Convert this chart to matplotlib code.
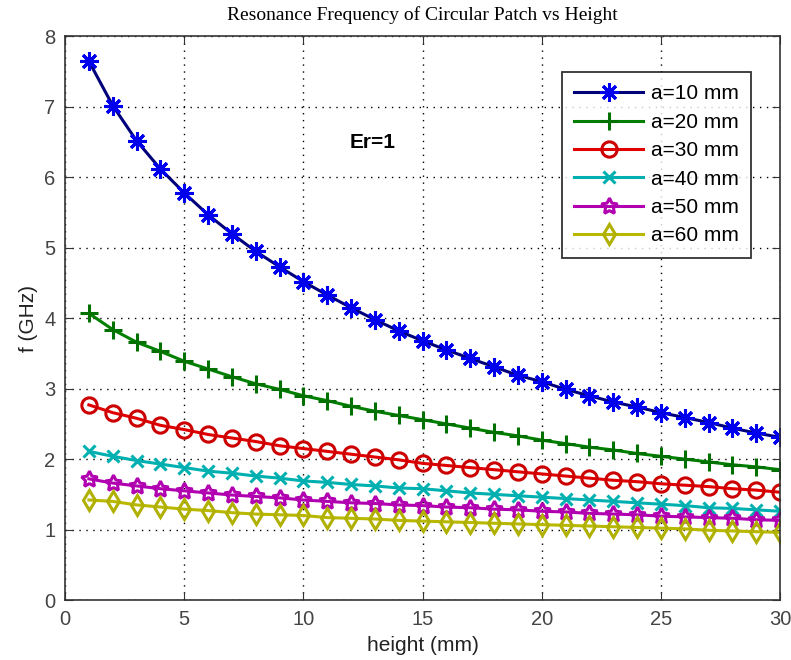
import numpy as np
import matplotlib
matplotlib.use("Agg")
import matplotlib.pyplot as plt

# values
height = list(range(1, 31))
f_a10 = [7.65, 7.02, 6.52, 6.12, 5.78, 5.47, 5.20, 4.95, 4.73, 4.52,
         4.33, 4.15, 3.98, 3.82, 3.68, 3.55, 3.43, 3.31, 3.19, 3.10,
         2.99, 2.90, 2.81, 2.74, 2.66, 2.59, 2.52, 2.44, 2.37, 2.31]
f_a20 = [4.07, 3.84, 3.66, 3.53, 3.39, 3.28, 3.17, 3.07, 2.99, 2.90,
         2.83, 2.75, 2.68, 2.62, 2.56, 2.50, 2.44, 2.38, 2.33, 2.27,
         2.22, 2.17, 2.13, 2.08, 2.04, 2.00, 1.96, 1.92, 1.89, 1.85]
f_a30 = [2.77, 2.66, 2.58, 2.48, 2.42, 2.35, 2.30, 2.25, 2.19, 2.15,
         2.11, 2.07, 2.03, 1.99, 1.94, 1.91, 1.88, 1.85, 1.82, 1.79,
         1.76, 1.73, 1.70, 1.68, 1.65, 1.63, 1.61, 1.58, 1.56, 1.53]
f_a40 = [2.11, 2.04, 1.98, 1.93, 1.88, 1.83, 1.80, 1.76, 1.73, 1.69,
         1.67, 1.64, 1.62, 1.59, 1.58, 1.55, 1.52, 1.50, 1.48, 1.46,
         1.44, 1.42, 1.40, 1.38, 1.36, 1.34, 1.31, 1.30, 1.28, 1.26]
f_a50 = [1.72, 1.66, 1.62, 1.58, 1.55, 1.52, 1.49, 1.47, 1.45, 1.42,
         1.40, 1.38, 1.37, 1.35, 1.34, 1.32, 1.31, 1.29, 1.28, 1.26,
         1.25, 1.23, 1.22, 1.21, 1.19, 1.18, 1.17, 1.16, 1.14, 1.13]
f_a60 = [1.42, 1.40, 1.35, 1.32, 1.29, 1.27, 1.24, 1.22, 1.21, 1.20,
         1.17, 1.16, 1.15, 1.13, 1.12, 1.11, 1.10, 1.09, 1.08, 1.07,
         1.06, 1.05, 1.04, 1.03, 1.02, 1.01, 0.99, 0.98, 0.97, 0.96]
labels = ["a=10 mm", "a=20 mm", "a=30 mm", "a=40 mm", "a=50 mm", "a=60 mm"]

series = [f_a10, f_a20, f_a30, f_a40, f_a50, f_a60]
edge_colors = ["#0000ee", "#007000", "#cc0000", "#00b0b0", "#b000b0", "#b0b000"]
line_colors = ["#00007a", "#007f00", "#e00000", "#00b0b0", "#b000b0", "#b8b800"]
markers = [(8, 2, 0), "+", "o", "x", (5, 1, 0), "d"]   # MATLAB * + o x p d
msizes = [13, 13, 11, 9, 12, 10]

plt.rcParams["font.family"] = ["Liberation Sans", "DejaVu Sans"]

fig = plt.figure(figsize=(7.91, 6.6), dpi=100)
ax = fig.add_axes([0.0822, 0.0909, 0.904, 0.8538])

for ys, lab, ec, lc, m, ms in zip(series, labels, edge_colors, line_colors, markers, msizes):
    ax.plot(height, ys, color=lc, lw=2.2, marker=m, ms=ms,
            mec=ec, mfc="none", mew=2.2, label=lab)

ax.set_xlim(0, 30)
ax.set_ylim(0, 8)
ax.set_xticks(range(0, 31, 5))
ax.set_yticks(range(0, 9))
ax.grid(True, ls=(0, (1, 4)), color="black", lw=1)
ax.tick_params(direction="in", top=True, right=True, labelsize=14.5,
               length=6, colors="#333333", labelcolor="#444444", pad=7)
for sp in ax.spines.values():
    sp.set_color("#333333")
    sp.set_linewidth(1.2)

ax.set_xlabel("height (mm)", fontsize=15, labelpad=5, color="#222222")
ax.set_ylabel("f (GHz)", fontsize=15, labelpad=4, color="#222222")
ax.set_title("Resonance Frequency of Circular Patch vs Height",
             fontsize=14, family="Liberation Serif", pad=12)
ax.text(12.9, 6.5, "Er=1", fontsize=15, fontweight="bold", ha="center", va="center")

leg = ax.legend(loc="upper left", bbox_to_anchor=(0.695, 0.937), borderaxespad=0,
                fontsize=15, frameon=True, fancybox=False, edgecolor="black",
                handlelength=3.3, borderpad=0.6, labelspacing=0.45, handletextpad=0.35)
leg.get_frame().set_linewidth(1.3)

fig.savefig("out.png", dpi=100)
